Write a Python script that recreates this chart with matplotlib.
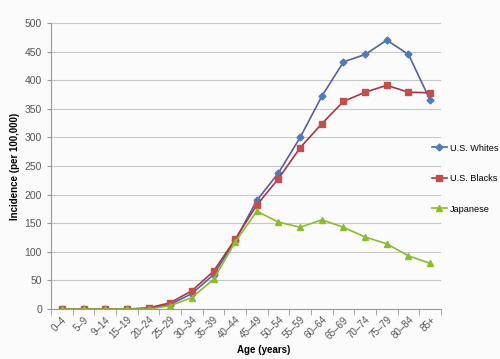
import matplotlib.pyplot as plt
import numpy as np

plt.rcParams["font.family"] = ["Liberation Sans", "DejaVu Sans"]

ages = ["0\u20134", "5\u20139", "9\u201314", "15\u201319", "20\u201324", "25\u201329", "30\u201334", "35\u201339",
        "40\u201344", "45\u201349", "50\u201354", "55\u201359", "60\u201364", "65\u201369", "70\u201374", "75\u201379",
        "80\u201384", "85+"]
whites = [0, 0, 0, 0, 1, 8, 27, 60, 120, 190, 238, 300, 372, 432, 445, 470, 445, 365]
blacks = [0, 0, 0, 0, 2, 11, 32, 66, 122, 182, 228, 282, 324, 363, 379, 391, 379, 378]
japanese = [0, 0, 0, 0, 0, 6, 20, 52, 117, 171, 152, 143, 156, 143, 126, 114, 93, 80]

fig = plt.figure(figsize=(5, 3.59), dpi=100, facecolor="#fbfbfb")
ax = fig.add_axes([0.102, 0.139, 0.78, 0.797])
ax.set_facecolor("#fbfbfb")

x = np.arange(len(ages))
ax.plot(x, whites, color="#56609e", marker="D", markersize=3.5, markerfacecolor="#4f7bbd",
        markeredgecolor="#4f7bbd", lw=1.2, label="U.S. Whites")
ax.plot(x, blacks, color="#a8354a", marker="s", markersize=5, markerfacecolor="#c0504d",
        markeredgecolor="#c0504d", lw=1.2, label="U.S. Blacks")
ax.plot(x, japanese, color="#8dbb2e", marker="^", markersize=5, lw=1.2, label="Japanese")

ax.set_xlim(-0.5, len(ages) - 0.5)
ax.set_ylim(0, 500)
ax.set_yticks(range(0, 501, 50))
ax.yaxis.grid(True, color="#c8c8c8", lw=0.8)
ax.set_axisbelow(True)

ax.set_xticks(x)
ax.set_xticklabels(ages, rotation=45, ha="right", rotation_mode="anchor", fontsize=7, color="#555555")
ax.set_xticks(np.arange(-0.5, len(ages)), minor=True)
ax.tick_params(axis="x", which="major", length=0, pad=4)
ax.tick_params(axis="x", which="minor", length=4, color="#999999")
ax.tick_params(axis="y", labelsize=7.5, colors="#555555", length=3, color="#999999")

for s in ["top", "right"]:
    ax.spines[s].set_visible(False)
for s in ["left", "bottom"]:
    ax.spines[s].set_color("#999999")

ax.set_ylabel("Incidence (per 100,000)", fontsize=7, fontweight="bold", labelpad=3)
ax.set_xlabel("Age (years)", fontsize=7, fontweight="bold", labelpad=2)
ax.xaxis.set_label_coords(0.546, -0.125)

fig.legend(loc="upper left", bbox_to_anchor=(0.864, 0.600), frameon=False, fontsize=6.6,
           labelspacing=2.35, handlelength=1.6, handletextpad=0.4, borderpad=0, borderaxespad=0)

fig.savefig("out.png", dpi=100, facecolor=fig.get_facecolor())
